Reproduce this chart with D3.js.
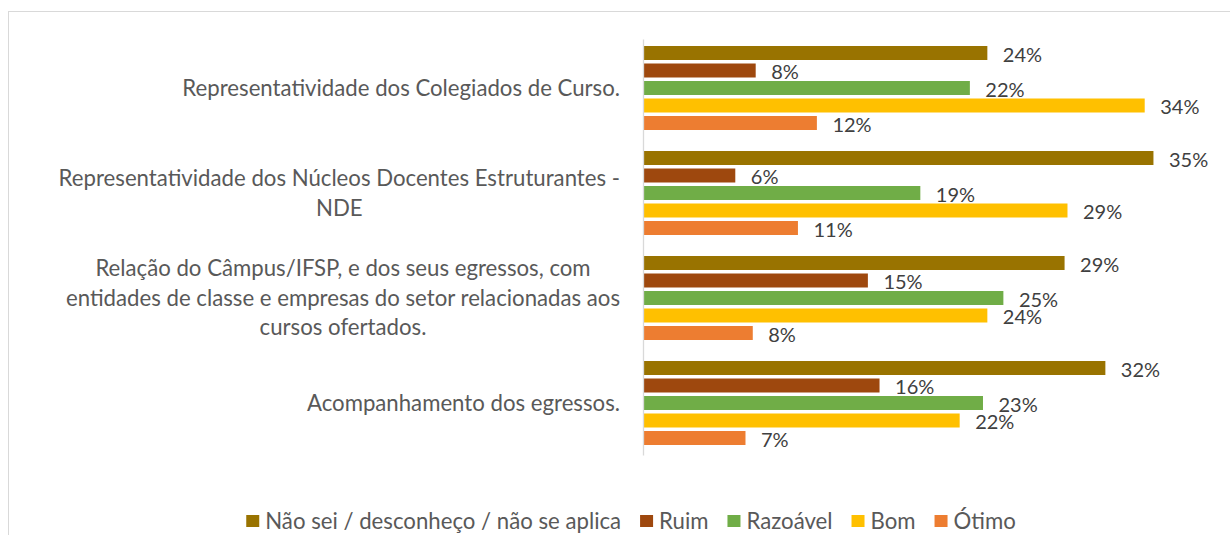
<!DOCTYPE html>
<html>
<head>
<meta charset="utf-8">
<script src="https://cdn.jsdelivr.net/npm/d3@7"></script>
<style>
	body { margin: 0; background: #fff; }
	svg text { font-family: Lato, "Open Sans", sans-serif; }
</style>
</head>
<body>
<svg id="chart" width="1230" height="535"></svg>
<script>
"use strict";

// categories, top to bottom (each entry = lines of the label)
var categories = [
	["Representatividade dos Colegiados de Curso."],
	["Representatividade dos Núcleos Docentes Estruturantes -", "NDE"],
	["Relação do Câmpus/IFSP, e dos seus egressos, com", "entidades de classe e empresas do setor relacionadas aos", "cursos ofertados."],
	["Acompanhamento dos egressos."]
];
var seriesNames = ["Não sei / desconheço / não se aplica", "Ruim", "Razoável", "Bom", "Ótimo"];
var seriesColors = ["#997300", "#9E480E", "#70AD47", "#FFC000", "#ED7D31"];

// percent per category, one array per series (labels rounded)
var naoSei   = [23.6, 35.0, 28.9, 31.7];
var ruim     = [7.7, 6.3, 15.4, 16.2];
var razoavel = [22.4, 19.0, 24.7, 23.3];
var bom      = [34.4, 29.1, 23.6, 21.7];
var otimo    = [11.9, 10.6, 7.5, 7.0];
var values = [naoSei, ruim, razoavel, bom, otimo];

var catFont = 22.2;
var valFont = 20;
var labelColor = "#595959";

var svg = d3.select("#chart");

// outer frame (cut by the picture edges on the right and bottom)
svg.append("rect")
	.attr("x", 8.5).attr("y", 11.5)
	.attr("width", 1240).attr("height", 540)
	.attr("fill", "none")
	.attr("stroke", "#D9D9D9")
	.attr("stroke-width", 1);

var x = d3.scaleLinear().domain([0, 40]).range([643.5, 1226.3]);
var catIdx = d3.range(categories.length);
var y0 = d3.scaleBand().domain(catIdx).range([35.5, 455.5]);
var y1 = d3.scaleBand().domain(d3.range(seriesNames.length))
	.range([0, y0.bandwidth()]).paddingInner(0.2).paddingOuter(0.6);

var groups = svg.append("g").selectAll("g")
	.data(catIdx)
	.enter().append("g")
	.attr("transform", function(c){ return "translate(0," + y0(c) + ")"; });

function rows(c){ return values.map(function(v, s){ return {s: s, v: v[c]}; }); }

groups.selectAll("rect")
	.data(rows)
	.enter().append("rect")
	.attr("x", x(0))
	.attr("y", function(d){ return y1(d.s); })
	.attr("width", function(d){ return x(d.v) - x(0); })
	.attr("height", y1.bandwidth())
	.attr("fill", function(d){ return seriesColors[d.s]; });

groups.selectAll("text.val")
	.data(rows)
	.enter().append("text")
	.attr("class", "val")
	.attr("x", function(d){ return x(d.v) + 15.5; })
	.attr("y", function(d){ return y1(d.s) + y1.bandwidth() / 2 + 1.5; })
	.attr("dy", "0.36em")
	.attr("font-size", valFont)
	.attr("fill", "#404040")
	.text(function(d){ return Math.round(d.v) + "%"; });

// vertical category axis line
svg.append("line")
	.attr("x1", x(0)).attr("x2", x(0))
	.attr("y1", y0.range()[0] + 4).attr("y2", y0.range()[1])
	.attr("stroke", "#D9D9D9")
	.attr("stroke-width", 1.3);

// category labels: lines centred on each other, block right-aligned next to the axis
var lineH = 29.5;
var labelRight = 620;
catIdx.forEach(function(c){
	var lines = categories[c];
	var g = svg.append("g");
	var cy = y0(c) + y0.bandwidth() / 2;
	var texts = lines.map(function(t, i){
		return g.append("text")
			.attr("x", 0)
			.attr("y", cy + (i - (lines.length - 1) / 2) * lineH)
			.attr("dy", "0.36em")
			.attr("font-size", catFont)
			.attr("fill", labelColor)
			.attr("text-anchor", "middle")
			.text(t);
	});
	var w = d3.max(texts, function(t){ return t.node().getComputedTextLength(); });
	g.attr("transform", "translate(" + (labelRight - w / 2) + ",0)");
});

// legend
var legend = svg.append("g");
var lx = 0;
var itemGap = 19;
seriesNames.forEach(function(name, s){
	var item = legend.append("g").attr("transform", "translate(" + lx + ",0)");
	item.append("rect")
		.attr("x", 0).attr("y", -6)
		.attr("width", 13).attr("height", 12)
		.attr("fill", seriesColors[s]);
	var t = item.append("text")
		.attr("x", 19).attr("dy", "0.36em")
		.attr("font-size", catFont)
		.attr("fill", labelColor)
		.text(name);
	lx += 19 + t.node().getComputedTextLength() + itemGap;
});
var legendW = lx - itemGap;
legend.attr("transform", "translate(" + (631 - legendW / 2) + ",521)");
</script>
</body>
</html>
